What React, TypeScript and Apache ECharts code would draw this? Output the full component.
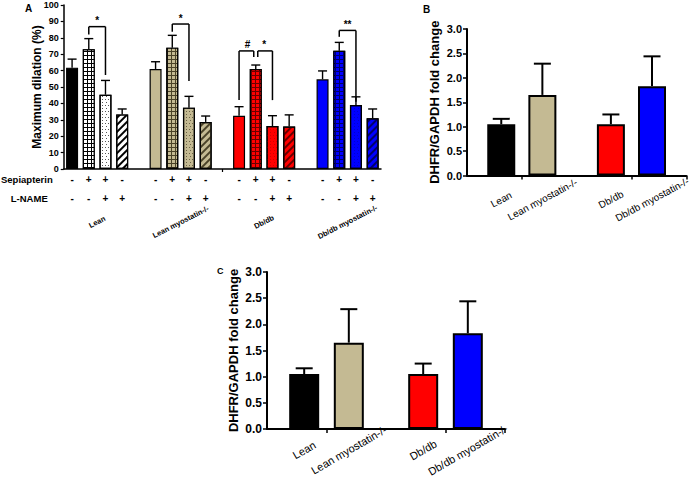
import React, { useEffect, useRef } from 'react';
import * as echarts from 'echarts';

const FONT = 'Arial, "Liberation Sans", Helvetica, sans-serif';

// ---------- Panel A data ----------
const aGroups = ['Lean', 'Lean myostatin-/-', 'Db/db', 'Db/db myostatin-/-'];
const sepiapterinSigns = ['-', '+', '+', '-'];
const lNameSigns = ['-', '-', '+', '+'];
const leanMean = [61.8, 73.0, 45.3, 33.3];
const leanSem = [5.2, 6.5, 8.7, 3.3];
const leanMyoMean = [61.0, 74.0, 37.4, 28.7];
const leanMyoSem = [4.4, 7.5, 6.9, 3.6];
const dbMean = [32.5, 61.0, 26.2, 25.9];
const dbSem = [5.5, 2.4, 6.3, 7.1];
const dbMyoMean = [54.7, 72.1, 39.0, 30.9];
const dbMyoSem = [5.1, 5.1, 5.0, 5.7];

// significance brackets (group, bar A, bar B, bracket level, leg ends)
const sigLabels = ['*', '*', '#', '*', '**'];
const sigGroup = [0, 1, 2, 2, 3];
const sigBarA = [1, 1, 0, 1, 1];
const sigBarB = [2, 2, 1, 2, 2];
const sigLevel = [86.8, 88.4, 72.0, 72.0, 84.5];
const sigLegA = [82.0, 83.7, 42.0, 68.3, 80.6];
const sigLegB = [57.3, 53.7, 68.3, 42.0, 41.0];

// ---------- Panel B / C data ----------
const dhfrCategories = ['Lean', 'Lean myostatin-/-', 'Db/db', 'Db/db myostatin-/-'];
const dhfrMean = [1.05, 1.65, 1.05, 1.83];
const dhfrSem = [0.11, 0.64, 0.2, 0.61];

// ---------- styles / layout ----------
const groupBase = ['#000000', '#c4ba93', '#ff0000', '#0000ff'];
const groupInk = ['#000000', '#4a4228', '#6a0000', '#00006a'];
const groupDots = ['#555555', '#6b6245', '#d40000', '#0000d0'];
const A_SLOTS = 19;
const SLOT_PER_GROUP = 5;
const BC_SLOTS = 16;
const bcBarSlots = [2, 5, 10, 13];
const legShift = [[0, 0], [0, 0], [0, -2], [2, 0], [0, 0]];
const GROUP_LABEL_DY = 53;
const GROUP_LABEL_ROT = 27;

const groupMeans = [leanMean, leanMyoMean, dbMean, dbMyoMean];
const groupSems = [leanSem, leanMyoSem, dbSem, dbMyoSem];

function aItemStyle(g: number, b: number): any {
  const base = g === 0 && b > 0 ? '#ffffff' : groupBase[g];
  const ink = groupInk[g];
  const st: any = { color: base, borderColor: '#000', borderWidth: 1.2 };
  if (b === 1) {
    st.color = ink;
    st.decal = {
      symbol: 'rect', symbolSize: 1, symbolKeepAspect: false,
      color: base, dashArrayX: [2.4, 0.9], dashArrayY: [2.4, 0.9], rotation: 0,
    };
  } else if (b === 2) {
    st.decal = {
      symbol: 'rect', symbolSize: 1, symbolKeepAspect: false,
      color: groupDots[g], dashArrayX: [[1, 2], [0, 1.5, 1, 0.5]], dashArrayY: [1, 1.5], rotation: 0,
    };
  } else if (b === 3) {
    st.decal = {
      symbol: 'rect', symbolSize: 1, symbolKeepAspect: false,
      color: ink, dashArrayX: [10, 0], dashArrayY: [2, 2.4], rotation: -Math.PI / 4,
    };
  }
  return st;
}

export default function App() {
  const ref = useRef<HTMLDivElement>(null);
  useEffect(() => {
    if (!ref.current) return;
    const chart = echarts.init(ref.current, null, { renderer: 'svg' });

    const aSlotNames: string[] = [];
    const sepRow: string[] = [];
    const lnRow: string[] = [];
    const aBarData: any[] = [];
    const aErrData: any[] = [];
    for (let s = 0; s < A_SLOTS; s++) {
      const g = Math.floor(s / SLOT_PER_GROUP);
      const b = s % SLOT_PER_GROUP;
      aSlotNames.push('s' + s);
      if (b >= 4) {
        sepRow.push('');
        lnRow.push('');
        aBarData.push('-');
      } else {
        sepRow.push(sepiapterinSigns[b]);
        lnRow.push(lNameSigns[b]);
        aBarData.push({ value: groupMeans[g][b], itemStyle: aItemStyle(g, b) });
        aErrData.push([s, groupMeans[g][b], groupSems[g][b]]);
      }
    }
    const groupLabelData = aGroups.map((_, g) => [g * SLOT_PER_GROUP + 1, 0]);
    const sigData = sigLabels.map((_, i) => [
      sigGroup[i] * SLOT_PER_GROUP + sigBarA[i],
      sigLevel[i],
      sigGroup[i] * SLOT_PER_GROUP + sigBarB[i],
      sigLegA[i], sigLegB[i],
    ]);

    const bcSlotNames: string[] = [];
    const bcBarData: any[] = [];
    for (let s = 0; s < BC_SLOTS; s++) {
      const k = bcBarSlots.indexOf(s);
      if (k >= 0) {
        bcSlotNames.push(dhfrCategories[k]);
        bcBarData.push({ value: dhfrMean[k], itemStyle: { color: groupBase[k], borderColor: '#000', borderWidth: 2 } });
      } else {
        bcSlotNames.push('');
        bcBarData.push('-');
      }
    }
    const bcErrData = dhfrMean.map((m, k) => [bcBarSlots[k], m, dhfrSem[k]]);

    const errRender = (capHalf: number, lw: number) => (params: any, api: any) => {
      const x = api.value(0);
      const m = api.value(1);
      const s = api.value(2);
      const p0 = api.coord([x, m]);
      const p1 = api.coord([x, m + s]);
      const style = { stroke: '#000', lineWidth: lw, fill: 'none' };
      return {
        type: 'group',
        children: [
          { type: 'line', shape: { x1: p0[0], y1: p0[1], x2: p1[0], y2: p1[1] }, style },
          { type: 'line', shape: { x1: p1[0] - capHalf, y1: p1[1], x2: p1[0] + capHalf, y2: p1[1] }, style },
        ],
      };
    };

    const sigRender = (params: any, api: any) => {
      const i = params.dataIndex;
      const xa = api.value(0), lvl = api.value(1), xb = api.value(2), la = api.value(3), lb = api.value(4);
      const pa = api.coord([xa, lvl]);
      const pb = api.coord([xb, lvl]);
      const pla = api.coord([xa, la]);
      const plb = api.coord([xb, lb]);
      const ax = pa[0] + legShift[i][0];
      const bx = pb[0] + legShift[i][1];
      const style = { stroke: '#000', lineWidth: 1.5, fill: 'none' };
      return {
        type: 'group',
        children: [
          { type: 'line', shape: { x1: ax, y1: pla[1], x2: ax, y2: pa[1] }, style },
          { type: 'line', shape: { x1: ax, y1: pa[1], x2: bx, y2: pb[1] }, style },
          { type: 'line', shape: { x1: bx, y1: pb[1], x2: bx, y2: plb[1] }, style },
          {
            type: 'text', x: (pa[0] + pb[0]) / 2, y: pa[1] - 1,
            style: { text: sigLabels[i], textAlign: 'center', textVerticalAlign: 'bottom', fontSize: 10, fontWeight: 'bold', fill: '#000', fontFamily: FONT },
          },
        ],
      };
    };

    const groupLabelRender = (params: any, api: any) => {
      const i = params.dataIndex;
      const x = api.value(0);
      const p1 = api.coord([x, 0]);
      const p2 = api.coord([x + 1, 0]);
      return {
        type: 'group',
        x: (p1[0] + p2[0]) / 2,
        y: p1[1] + GROUP_LABEL_DY,
        rotation: (GROUP_LABEL_ROT * Math.PI) / 180,
        children: [
          {
            type: 'text',
            x: 0, y: 0,
            style: {
              text: aGroups[i], align: 'center', verticalAlign: 'middle',
              fontSize: 7.5, fontWeight: 'bold', fill: '#000', fontFamily: FONT,
            },
          },
        ],
      };
    };

    const signAxis = (data: string[], offset: number, name: string, gap: number) => ({
      type: 'category', gridIndex: 0, data, position: 'bottom', offset,
      axisLine: { show: false, onZero: false }, axisTick: { show: false }, splitLine: { show: false },
      axisLabel: { interval: 0, margin: 0, verticalAlign: 'middle', fontSize: 10, fontWeight: 'bold', color: '#000', fontFamily: FONT },
      name, nameLocation: 'start', nameGap: gap,
      nameTextStyle: { fontSize: 9.5, fontWeight: 'bold', color: '#000', fontFamily: FONT },
    });

    const bcXAxis = (gridIndex: number, fontSize: number, margin: number, rotate: number) => ({
      type: 'category', gridIndex, data: bcSlotNames,
      axisLine: { onZero: false, lineStyle: { color: '#000', width: 2 } },
      axisTick: { show: true, interval: (i: number) => i === 4 || i === 12, length: 4, lineStyle: { color: '#000', width: 1.5 } },
      axisLabel: { interval: 0, rotate, align: 'center', verticalAlign: 'middle', margin, fontSize, color: '#000', fontFamily: FONT },
      splitLine: { show: false },
    });

    const bcYAxis = (gridIndex: number, fontSize: number, nameGap: number, nameSize: number) => ({
      type: 'value', gridIndex, min: 0, max: 3, interval: 0.5,
      axisLine: { show: true, onZero: false, lineStyle: { color: '#000', width: 2 } },
      axisTick: { show: true, length: 4, lineStyle: { color: '#000', width: 1.5 } },
      axisLabel: { fontSize, fontWeight: 'bold', color: '#000', margin: 5, fontFamily: FONT, formatter: (v: number) => v.toFixed(1) },
      splitLine: { show: false },
      name: 'DHFR/GAPDH fold change', nameLocation: 'middle', nameGap, nameMoveOverlap: false,
      nameTextStyle: { fontSize: nameSize, fontWeight: 'bold', color: '#000', fontFamily: FONT },
    });

    const option: any = {
      animation: false,
      backgroundColor: '#ffffff',
      textStyle: { fontFamily: FONT },
      graphic: [
        { type: 'text', x: 25, y: 3, style: { text: 'A', fontSize: 10, fontWeight: 'bold', fill: '#000', fontFamily: FONT } },
        { type: 'text', x: 423, y: 4, style: { text: 'B', fontSize: 10, fontWeight: 'bold', fill: '#000', fontFamily: FONT } },
        { type: 'text', x: 217, y: 266, style: { text: 'C', fontSize: 9, fontWeight: 'bold', fill: '#000', fontFamily: FONT } },
      ],
      grid: [
        { left: 63, top: 5, width: 318, height: 164 },
        { left: 467, top: 29, width: 222, height: 146.5 },
        { left: 267, top: 272, width: 238, height: 157 },
      ],
      xAxis: [
        {
          type: 'category', gridIndex: 0, data: aSlotNames,
          axisLine: { onZero: false, lineStyle: { color: '#000', width: 1.5 } },
          axisTick: { show: true, alignWithLabel: true, interval: (i: number) => i === 9, length: 3, lineStyle: { color: '#000', width: 1.2 } },
          axisLabel: { show: false },
          splitLine: { show: false },
        },
        signAxis(sepRow, 10, 'Sepiapterin', 11),
        signAxis(lnRow, 29, 'L-NAME', 16),
        bcXAxis(1, 10, 24, 28),
        bcXAxis(2, 11, 21, 30),
      ],
      yAxis: [
        {
          type: 'value', gridIndex: 0, min: 0, max: 100, interval: 10,
          axisLine: { show: true, onZero: false, lineStyle: { color: '#000', width: 1.5 } },
          axisTick: { show: true, length: 3, lineStyle: { color: '#000', width: 1.2 } },
          axisLabel: { fontSize: 9, fontWeight: 'bold', color: '#000', margin: 5, fontFamily: FONT },
          splitLine: { show: false },
          name: 'Maximum dilation (%)', nameLocation: 'middle', nameGap: 21, nameMoveOverlap: false,
          nameTextStyle: { fontSize: 12, fontWeight: 'bold', color: '#000', fontFamily: FONT },
        },
        bcYAxis(1, 11, 26, 13),
        bcYAxis(2, 12, 27, 13),
      ],
      series: [
        { type: 'bar', xAxisIndex: 0, yAxisIndex: 0, barWidth: 12, data: aBarData, z: 2 },
        { type: 'custom', xAxisIndex: 0, yAxisIndex: 0, data: aErrData, renderItem: errRender(4.5, 1.4), z: 3 },
        { type: 'custom', xAxisIndex: 0, yAxisIndex: 0, data: sigData, renderItem: sigRender, z: 4 },
        { type: 'custom', xAxisIndex: 0, yAxisIndex: 0, data: groupLabelData, renderItem: groupLabelRender, clip: false, z: 4 },
        { type: 'bar', xAxisIndex: 3, yAxisIndex: 1, barWidth: 28, data: bcBarData, z: 2 },
        { type: 'custom', xAxisIndex: 3, yAxisIndex: 1, data: bcErrData, renderItem: errRender(8.5, 2), z: 3 },
        { type: 'bar', xAxisIndex: 4, yAxisIndex: 2, barWidth: 30, data: bcBarData, z: 2 },
        { type: 'custom', xAxisIndex: 4, yAxisIndex: 2, data: bcErrData, renderItem: errRender(8.5, 2), z: 3 },
      ],
    };
    chart.setOption(option);
    return () => chart.dispose();
  }, []);
  return (
    <div
      ref={ref}
      style={{ position: 'fixed', left: 0, top: 0, width: 693, height: 481, background: '#fff' }}
    />
  );
}
